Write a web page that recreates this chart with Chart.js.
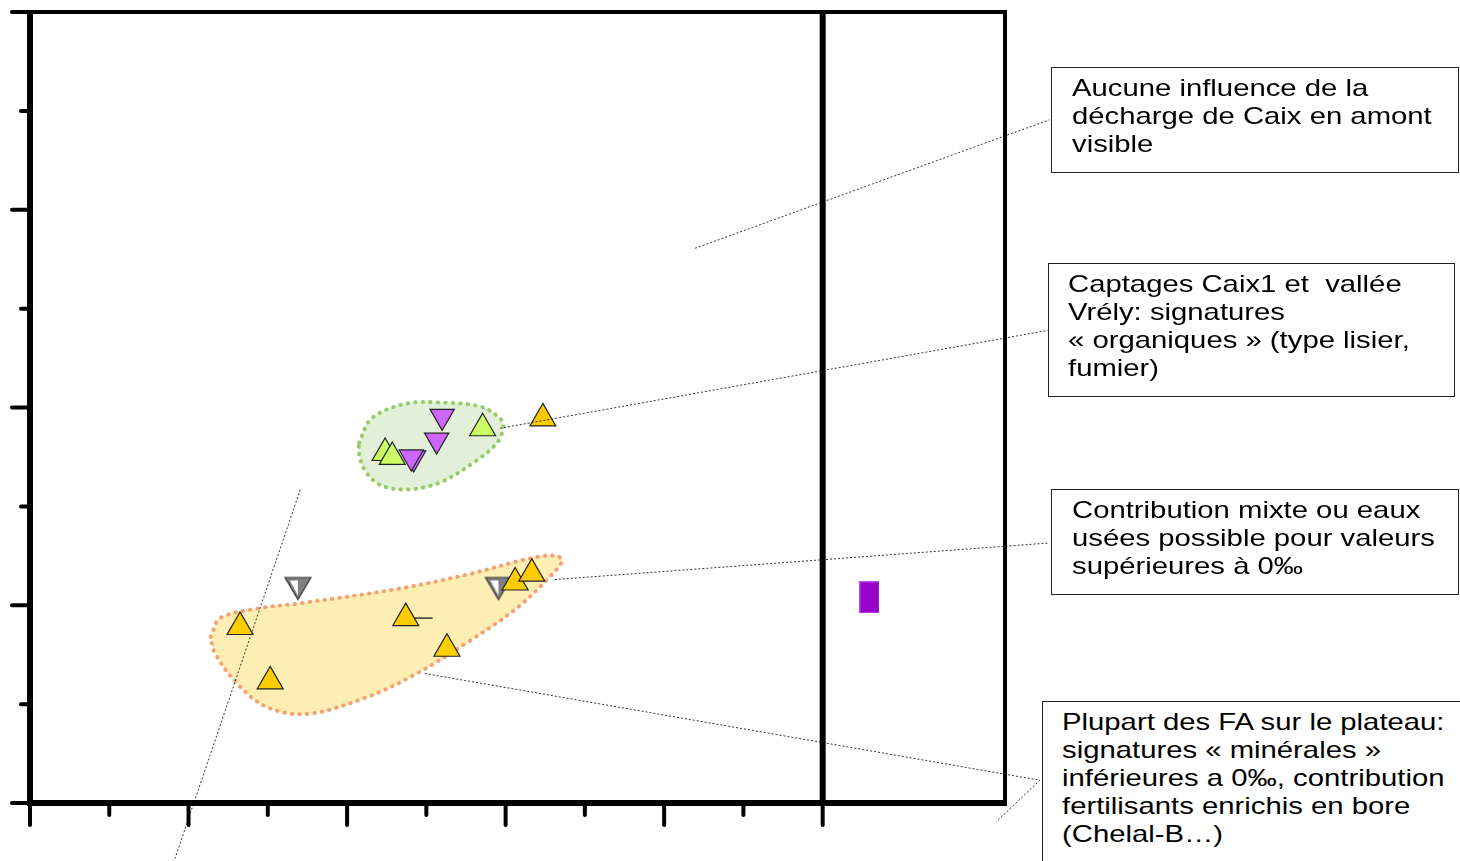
<!DOCTYPE html>
<html>
<head>
<meta charset="utf-8">
<script src="https://cdn.jsdelivr.net/npm/chart.js@4.4.1/dist/chart.umd.min.js"></script>
<style>
  html, body { margin: 0; padding: 0; background: #fff; overflow: hidden; }
  #wrap { position: relative; width: 1460px; height: 861px; }
  canvas { position: absolute; left: 0; top: 0; }
  .box {
    position: absolute;
    border: 1.5px solid #222;
    background: #fff;
    box-sizing: border-box;
    font-family: 'Liberation Sans', Arial, sans-serif;
    font-size: 24px;
    line-height: 28px;
    color: #000;
  }
  .box span {
    display: block;
    white-space: pre;
    transform: scaleX(1.22);
    transform-origin: left top;
  }
</style>
</head>
<body>
<div id="wrap">
  <canvas id="chart1" width="1460" height="861"></canvas>
  <div class="box" style="left:1051px;top:67px;width:408px;height:106px;padding:6px 0 0 20px;"><span>Aucune influence de la
décharge de Caix en amont
visible</span></div>
  <div class="box" style="left:1048px;top:263px;width:407px;height:134px;padding:6px 0 0 19px;"><span>Captages Caix1 et  vallée
Vrély: signatures
« organiques » (type lisier,
fumier)</span></div>
  <div class="box" style="left:1051px;top:489px;width:408px;height:106px;padding:6px 0 0 20px;"><span>Contribution mixte ou eaux
usées possible pour valeurs
supérieures à 0‰</span></div>
  <div class="box" style="left:1042px;top:701px;width:430px;height:180px;padding:6px 0 0 19px;"><span>Plupart des FA sur le plateau:
signatures « minérales »
inférieures a 0‰, contribution
fertilisants enrichis en bore
(Chelal-B…)</span></div>
</div>
<script>
// axis ticks (no labels in the original)
const xTicks = [0, 1, 2, 3, 4, 5, 6, 7, 8, 9, 10];
const yTicks = [0, 1, 2, 3, 4, 5, 6, 7, 8];
const xMax = 12.3;
const yMax = 8;

// points
const limeUp = [
  { x: 4.48, y: 3.54 }, { x: 4.57, y: 3.50 }, { x: 5.71, y: 3.79 }
];
const purpleDown = [
  { x: 5.20, y: 3.91 }, { x: 5.13, y: 3.67 }, { x: 4.84, y: 3.49 }, { x: 4.81, y: 3.50 }
];
const orangeUp = [
  { x: 6.47, y: 3.89 },
  { x: 2.65, y: 1.78 }, { x: 3.03, y: 1.23 }, { x: 4.74, y: 1.87 },
  { x: 5.26, y: 1.56 }, { x: 6.12, y: 2.23 }, { x: 6.33, y: 2.32 }
];
const grayDown = [
  { x: 3.38, y: 2.17 }, { x: 5.91, y: 2.17 }
];
const purpleRect = [
  { x: 10.59, y: 2.08 }
];
const stub = [
  { x: 4.74, y: 1.87 }, { x: 5.08, y: 1.87 }
];

// outlined groups
const greenZone = [
  { x: 4.15, y: 3.64 }, { x: 4.31, y: 3.89 }, { x: 4.75, y: 4.04 }, { x: 5.17, y: 4.05 },
  { x: 5.68, y: 4.01 }, { x: 5.93, y: 3.89 }, { x: 5.97, y: 3.80 }, { x: 5.89, y: 3.64 },
  { x: 5.59, y: 3.44 }, { x: 5.17, y: 3.24 }, { x: 4.75, y: 3.17 }, { x: 4.41, y: 3.22 },
  { x: 4.22, y: 3.37 }, { x: 4.15, y: 3.54 }, { x: 4.15, y: 3.64 }
];
const orangeZone = [
  { x: 2.28, y: 1.68 }, { x: 2.40, y: 1.87 }, { x: 2.90, y: 1.97 }, { x: 3.41, y: 2.02 },
  { x: 4.67, y: 2.17 }, { x: 5.51, y: 2.31 }, { x: 6.34, y: 2.48 }, { x: 6.65, y: 2.50 },
  { x: 6.71, y: 2.44 }, { x: 6.56, y: 2.29 }, { x: 6.14, y: 1.97 }, { x: 5.51, y: 1.62 },
  { x: 4.88, y: 1.31 }, { x: 4.25, y: 1.07 }, { x: 3.49, y: 0.90 }, { x: 2.99, y: 0.97 },
  { x: 2.61, y: 1.21 }, { x: 2.33, y: 1.52 }, { x: 2.28, y: 1.68 }
];

// callout leader lines
const leaders = [
  [{ x: 8.39, y: 5.61 }, { x: 12.86, y: 6.91 }],
  [{ x: 5.93, y: 3.79 }, { x: 12.84, y: 4.78 }],
  [{ x: 6.62, y: 2.26 }, { x: 12.86, y: 2.63 }],
  [{ x: 4.98, y: 1.31 }, { x: 12.74, y: 0.23 }, { x: 12.19, y: -0.19 }],
  [{ x: 3.41, y: 3.17 }, { x: 1.83, y: -0.56 }]
];

function grayTriangle() {
  const c = document.createElement('canvas');
  c.width = 30; c.height = 26;
  const g = c.getContext('2d');
  g.beginPath();
  g.moveTo(2, 2); g.lineTo(28, 2); g.lineTo(15, 24); g.closePath();
  g.fillStyle = '#808080'; g.fill();
  g.lineWidth = 1.2; g.strokeStyle = '#333'; g.stroke();
  g.beginPath();
  g.moveTo(7, 5); g.lineTo(15, 5); g.lineTo(15, 20); g.closePath();
  g.fillStyle = '#fff'; g.fill();
  return c;
}

function rectMarker() {
  const c = document.createElement('canvas');
  c.width = 20; c.height = 32;
  const g = c.getContext('2d');
  g.fillStyle = '#9900cc';
  g.fillRect(0, 0, 20, 32);
  g.strokeStyle = '#b84de0'; g.lineWidth = 1;
  g.strokeRect(0.5, 0.5, 19, 31);
  return c;
}

const framePlugin = {
  id: 'frame',
  afterDatasetsDraw(chart) {
    const ctx = chart.ctx;
    const xs = chart.scales.x, ys = chart.scales.y;
    const px = v => xs.getPixelForValue(v);
    const py = v => ys.getPixelForValue(v);

    // leader lines
    ctx.save();
    ctx.strokeStyle = '#333';
    ctx.lineWidth = 1;
    ctx.setLineDash([2, 2]);
    leaders.forEach(pts => {
      ctx.beginPath();
      pts.forEach((p, i) => i ? ctx.lineTo(px(p.x), py(p.y)) : ctx.moveTo(px(p.x), py(p.y)));
      ctx.stroke();
    });
    ctx.restore();

    // frame
    const L = px(0), R = px(xMax), T = py(yMax), B = py(0);
    ctx.save();
    ctx.strokeStyle = '#000';
    ctx.lineCap = 'butt';
    ctx.lineWidth = 4;
    ctx.beginPath(); ctx.moveTo(L, T); ctx.lineTo(R + 2, T); ctx.stroke();
    ctx.beginPath(); ctx.moveTo(R, T); ctx.lineTo(R, B); ctx.stroke();
    ctx.lineWidth = 6;
    ctx.beginPath(); ctx.moveTo(L, T - 2); ctx.lineTo(L, B + 3); ctx.stroke();
    ctx.beginPath(); ctx.moveTo(L, B); ctx.lineTo(R + 2, B); ctx.stroke();
    ctx.beginPath(); ctx.moveTo(px(10), T - 2); ctx.lineTo(px(10), B); ctx.stroke();

    // ticks
    ctx.lineWidth = 4;
    ctx.lineCap = 'round';
    xTicks.forEach(v => {
      const len = v % 2 === 0 ? 22 : 12;
      ctx.beginPath(); ctx.moveTo(px(v), B); ctx.lineTo(px(v), B + len); ctx.stroke();
    });
    yTicks.forEach(v => {
      const len = v % 2 === 0 ? 18 : 9;
      ctx.beginPath(); ctx.moveTo(L, py(v)); ctx.lineTo(L - len, py(v)); ctx.stroke();
    });
    ctx.restore();
  }
};

new Chart(document.getElementById('chart1'), {
  type: 'scatter',
  data: {
    datasets: [
      {
        data: limeUp, pointStyle: 'triangle', pointRadius: 15,
        backgroundColor: '#ccff66', borderColor: '#222', borderWidth: 1.2, order: 1
      },
      {
        data: purpleDown, pointStyle: 'triangle', rotation: 180, pointRadius: 14,
        backgroundColor: '#cc66ff', borderColor: '#222', borderWidth: 1.2, order: 1
      },
      {
        data: stub, showLine: true, pointRadius: 0, borderColor: '#333', borderWidth: 1.5, order: 2
      },
      {
        data: orangeUp, pointStyle: 'triangle', pointRadius: 15,
        backgroundColor: '#ffcc00', borderColor: '#222', borderWidth: 1.2, order: 1
      },
      {
        data: grayDown, pointStyle: grayTriangle(), order: 1
      },
      {
        data: purpleRect, pointStyle: rectMarker(), order: 1
      },
      {
        data: greenZone, showLine: true, pointRadius: 0, tension: 0.35, fill: 'shape',
        backgroundColor: '#e2efd9', borderColor: '#99cc66', borderWidth: 4,
        borderDash: [0.5, 7], borderCapStyle: 'round', order: 10
      },
      {
        data: orangeZone, showLine: true, pointRadius: 0, tension: 0.35, fill: 'shape',
        backgroundColor: '#fdefb3', borderColor: '#f7a070', borderWidth: 4,
        borderDash: [0.5, 7], borderCapStyle: 'round', order: 10
      }
    ]
  },
  options: {
    responsive: false,
    animation: false,
    layout: { autoPadding: false, padding: { left: 30, top: 12, right: 455, bottom: 58 } },
    plugins: { legend: { display: false }, tooltip: { enabled: false } },
    scales: {
      x: { type: 'linear', min: 0, max: xMax, display: false },
      y: { type: 'linear', min: 0, max: yMax, display: false }
    }
  },
  plugins: [framePlugin]
});
</script>
</body>
</html>
